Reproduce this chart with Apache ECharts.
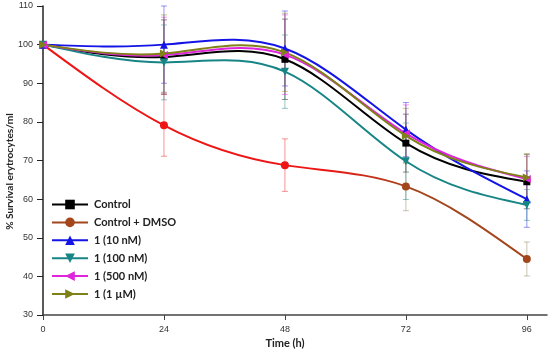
<!DOCTYPE html>
<html><head><meta charset="utf-8">
<script src="https://cdn.jsdelivr.net/npm/echarts@6/dist/echarts.min.js"></script>
<style>html,body{margin:0;padding:0;background:#fff}#c{width:550px;height:352px}</style>
</head><body><div id="c"></div>
<script>
// ---- data ----
const times = [0, 24, 48, 72, 96];
const xTickValues = [0, 24, 48, 72, 96];
const names = ['Control', 'Control + DMSO', '1 (10 nM)', '1 (100 nM)', '1 (500 nM)', '1 (1 µM)'];
const control    = [100, 96.8, 96.2, 74.5, 64.5];
const controlErr = [0.5, 9.6, 10.4, 7.5, 7.0];
const dmso       = [100, 79.1, 68.8, 63.3, 44.5];
const dmsoErr    = [0.5, 8.0, 6.8, 6.3, 4.4];
const nm10       = [100, 100, 99.0, 78.0, 60.0];
const nm10Err    = [0.5, 10.0, 9.7, 7.0, 7.3];
const nm100      = [100, 95.4, 93.0, 69.8, 58.5];
const nm100Err   = [0.5, 9.7, 9.5, 9.9, 4.0];
const nm500      = [100, 97.3, 97.4, 77.0, 65.2];
const nm500Err   = [0.5, 9.8, 10.3, 7.4, 5.8];
const um1        = [100, 97.7, 98.0, 76.4, 65.6];
const um1Err     = [0.5, 10.0, 10.1, 7.1, 6.2];

const values = [control, dmso, nm10, nm100, nm500, um1];
const errors = [controlErr, dmsoErr, nm10Err, nm100Err, nm500Err, um1Err];
const colors = ['#000000', '#a4461c', '#1414e6', '#178585', '#e024dc', '#808018'];
const red = '#ee1515', brown = '#a4461c';
const symbols = [
  'rect', 'circle', 'triangle',
  'path://M0,0 L10,0 L5,9 Z',
  'path://M9,0 L9,10 L0,5 Z',
  'path://M0,0 L9,5 L0,10 Z'
];

// natural cubic spline slopes (used only to draw the curve between the data points)
function splineSlopes(x, y) {
  const n = x.length, h = [], M = new Array(n).fill(0);
  for (let i = 0; i < n - 1; i++) h.push(x[i + 1] - x[i]);
  const a = [], b = [], c = [], d = [];
  for (let i = 1; i < n - 1; i++) {
    a.push(h[i - 1]); b.push(2 * (h[i - 1] + h[i])); c.push(h[i]);
    d.push(6 * ((y[i + 1] - y[i]) / h[i] - (y[i] - y[i - 1]) / h[i - 1]));
  }
  const m = b.length;
  for (let i = 1; i < m; i++) { const w = a[i] / b[i - 1]; b[i] -= w * c[i - 1]; d[i] -= w * d[i - 1]; }
  const sol = new Array(m);
  sol[m - 1] = d[m - 1] / b[m - 1];
  for (let i = m - 2; i >= 0; i--) sol[i] = (d[i] - c[i] * sol[i + 1]) / b[i];
  for (let i = 0; i < m; i++) M[i + 1] = sol[i];
  const s = [];
  for (let i = 0; i < n - 1; i++) s.push((y[i + 1] - y[i]) / h[i] - h[i] * (2 * M[i] + M[i + 1]) / 6);
  s.push((y[n - 1] - y[n - 2]) / h[n - 2] + h[n - 2] * (M[n - 2] + 2 * M[n - 1]) / 6);
  return s;
}

const series = [];
// error bars
values.forEach((vals, k) => {
  series.push({
    type: 'custom', name: 'err-' + k, z: 1, silent: true,
    data: times.map((t, i) => [t, vals[i], errors[k][i]]),
    encode: { x: 0, y: 1 },
    renderItem: (params, api) => {
      const x = api.value(0), y = api.value(1), e = api.value(2);
      const top = api.coord([x, y + e]), bot = api.coord([x, y - e]);
      let col = colors[k];
      if (k === 1) col = x <= 48 ? red : '#8a7a50';
      const st = { stroke: col, lineWidth: 1, opacity: 0.45 };
      return { type: 'group', children: [
        { type: 'line', shape: { x1: top[0], y1: top[1], x2: bot[0], y2: bot[1] }, style: st },
        { type: 'line', shape: { x1: top[0] - 3, y1: top[1], x2: top[0] + 3, y2: top[1] }, style: st },
        { type: 'line', shape: { x1: bot[0] - 3, y1: bot[1], x2: bot[0] + 3, y2: bot[1] }, style: st }
      ]};
    }
  });
});
// spline curves
values.forEach((vals, k) => {
  const slopes = splineSlopes(times, vals);
  series.push({
    type: 'custom', name: 'curve-' + k, z: 2, silent: true,
    data: times.map((t, i) => [t, vals[i]]),
    encode: { x: 0, y: 1 },
    renderItem: (params, api) => {
      const i = params.dataIndex;
      if (i >= times.length - 1) return null;
      const x0 = times[i], x1 = times[i + 1], hh = x1 - x0;
      const p0 = api.coord([x0, vals[i]]);
      const p1 = api.coord([x1, vals[i + 1]]);
      const c0 = api.coord([x0 + hh / 3, vals[i] + slopes[i] * hh / 3]);
      const c1 = api.coord([x1 - hh / 3, vals[i + 1] - slopes[i + 1] * hh / 3]);
      let stroke = colors[k];
      if (k === 1) {
        if (i < 2) stroke = red;
        else if (i === 2) stroke = new echarts.graphic.LinearGradient(0, 0, 1, 0, [
          { offset: 0, color: red }, { offset: 0.35, color: red }, { offset: 1, color: brown }]);
        else stroke = brown;
      }
      return { type: 'bezierCurve',
        shape: { x1: p0[0], y1: p0[1], x2: p1[0], y2: p1[1], cpx1: c0[0], cpy1: c0[1], cpx2: c1[0], cpy2: c1[1] },
        style: { stroke: stroke, lineWidth: 2, fill: null } };
    }
  });
});
// markers (line series, line hidden; legend shows line + symbol)
values.forEach((vals, k) => {
  series.push({
    type: 'line', name: names[k], z: 3, silent: true,
    symbol: symbols[k], symbolSize: k === 0 ? 7 : 8, showSymbol: true,
    lineStyle: { color: colors[k], width: 2, opacity: 0 },
    itemStyle: { color: colors[k] },
    data: times.map((t, i) => {
      const item = { value: [t, vals[i]] };
      if (k === 1) item.itemStyle = { color: t <= 48 ? red : brown };
      return item;
    })
  });
});

const chart = echarts.init(document.getElementById('c'), null, { renderer: 'canvas' });
chart.setOption({
  animation: false,
  backgroundColor: '#ffffff',
  grid: { left: 43, right: 3, top: 6, bottom: 37, outerBoundsMode: 'none' },
  legend: {
    data: names, orient: 'vertical', left: 46, top: 194,
    itemWidth: 36, itemHeight: 12, itemGap: 6.9,
    lineStyle: { opacity: 1, width: 2 },
    textStyle: { fontFamily: 'Lato', fontWeight: 'bold', fontSize: 11, color: '#222', padding: [0, 0, 0, 1] },
    selectedMode: false
  },
  xAxis: {
    type: 'value', min: 0, max: 100, interval: 24,
    name: 'Time (h)', nameLocation: 'middle', nameGap: 23, nameMoveOverlap: false,
    nameTextStyle: { fontFamily: 'Lato', fontWeight: 'bold', fontSize: 11, color: '#222', padding: [0, 20, 0, 0] },
    axisLine: { show: true, lineStyle: { color: '#444', width: 1.5 } },
    axisTick: { show: true, length: 5, lineStyle: { color: '#444' }, customValues: xTickValues },
    axisLabel: { fontFamily: 'Liberation Sans', fontSize: 9, color: '#333', margin: 10, customValues: xTickValues },
    splitLine: { show: false }
  },
  yAxis: {
    type: 'value', min: 30, max: 110, interval: 10,
    name: '% Survival erytrocytes/ml', nameLocation: 'middle', nameGap: 28, nameMoveOverlap: false,
    nameTextStyle: { fontFamily: 'Lato', fontWeight: 'bold', fontSize: 10.2, color: '#222', padding: [0, 22, 0, 0] },
    axisLine: { show: true, lineStyle: { color: '#222', width: 1.5 } },
    axisTick: { show: true, length: 6, lineStyle: { color: '#222' } },
    axisLabel: { fontFamily: 'Liberation Sans', fontSize: 9, color: '#333', margin: 10 },
    splitLine: { show: false }
  },
  series: series
});
</script></body></html>
